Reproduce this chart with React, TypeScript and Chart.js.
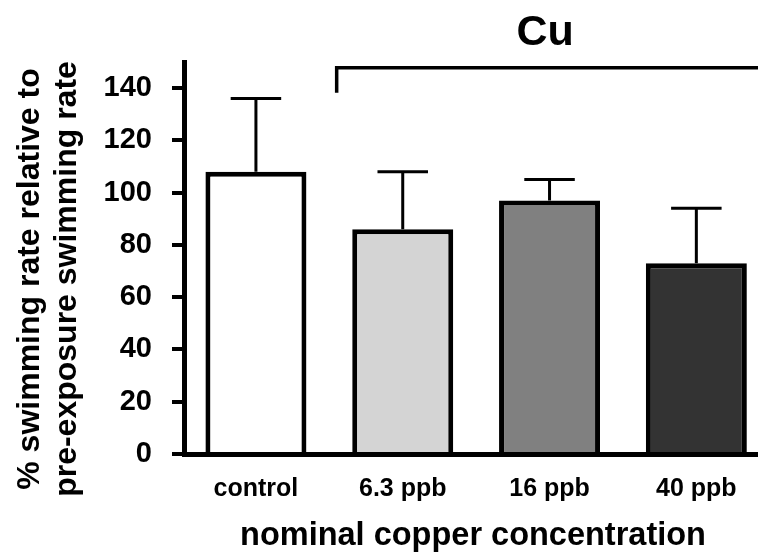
import React, { useEffect, useRef } from "react";
import { Chart, registerables } from "chart.js";

Chart.register(...registerables);

const categories = ["control", "6.3 ppb", "16 ppb", "40 ppb"];
const means = [108, 86, 97, 73];
const errors = [28, 22, 8, 21];
const barColors = ["#ffffff", "#d4d4d4", "#808080", "#333333"];
const yMin = 0;
const yMax = 150;
const yStep = 20;
const groupLabel = "Cu";
const xTitle = "nominal copper concentration";
const yTitleLines = ["% swimming rate relative to", "pre-exposure swimming rate"];

const FONT = "'Liberation Sans', Arial, Helvetica, sans-serif";

const annotations = {
  id: "annotations",
  afterDatasetsDraw(chart: any) {
    const { ctx } = chart;
    const ys = chart.scales.y;
    const meta = chart.getDatasetMeta(0);
    ctx.save();
    ctx.strokeStyle = "#000";
    ctx.lineWidth = 3;
    meta.data.forEach((bar: any, i: number) => {
      const x = bar.x;
      const yTop = ys.getPixelForValue(means[i]);
      const yErr = ys.getPixelForValue(means[i] + errors[i]);
      const half = bar.width / 4;
      ctx.beginPath();
      ctx.moveTo(x, yTop);
      ctx.lineTo(x, yErr);
      ctx.moveTo(x - half, yErr);
      ctx.lineTo(x + half, yErr);
      ctx.stroke();
    });
    ctx.restore();
  },
  afterDraw(chart: any) {
    const { ctx, chartArea } = chart;
    const xs = chart.scales.x;
    const ys = chart.scales.y;
    ctx.save();
    const bx = xs.getPixelForValue(0.55);
    const by = ys.getPixelForValue(147.8);
    const byLeg = ys.getPixelForValue(138.2);
    ctx.strokeStyle = "#000";
    ctx.lineWidth = 3.5;
    ctx.lineCap = "butt";
    ctx.beginPath();
    ctx.moveTo(bx, byLeg);
    ctx.lineTo(bx, by);
    ctx.lineTo(chart.width, by);
    ctx.stroke();
    ctx.fillStyle = "#000";
    ctx.font = `bold 43px ${FONT}`;
    ctx.textAlign = "center";
    ctx.textBaseline = "alphabetic";
    ctx.fillText(groupLabel, xs.getPixelForValue(1.97), 45);
    ctx.font = `bold 32.5px ${FONT}`;
    ctx.fillText(xTitle, (chartArea.left + chartArea.right) / 2 + 2, 545);
    const cy = (chartArea.top + chartArea.bottom) / 2 + 21;
    const lineX = [30, 67];
    ctx.font = `bold 32px ${FONT}`;
    yTitleLines.forEach((t, i) => {
      ctx.save();
      ctx.translate(lineX[i], cy);
      ctx.rotate(-Math.PI / 2);
      ctx.textBaseline = "middle";
      ctx.fillText(t, 0, 0);
      ctx.restore();
    });
    ctx.restore();
  },
};

export default function App() {
  const canvasRef = useRef<HTMLCanvasElement | null>(null);

  useEffect(() => {
    if (!canvasRef.current) return;
    const chart = new Chart(canvasRef.current, {
      type: "bar",
      data: {
        datasets: [
          {
            data: means.map((v, i) => ({ x: i, y: v })),
            backgroundColor: barColors,
            borderColor: "#000",
            borderWidth: 5,
            borderSkipped: "start",
            categoryPercentage: 1,
            barPercentage: 0.688,
          },
        ],
      },
      options: {
        animation: false,
        responsive: true,
        maintainAspectRatio: false,
        layout: { padding: { top: 62, left: 0, right: 0, bottom: 0 } },
        plugins: {
          legend: { display: false },
          tooltip: { enabled: false },
          title: { display: false },
        },
        scales: {
          x: {
            type: "linear",
            offset: false,
            min: -0.49,
            max: 3.42,
            afterBuildTicks: (scale: any) => {
              scale.ticks = categories.map((_, i) => ({ value: i }));
            },
            afterFit: (scale: any) => {
              scale.height = 102;
            },
            grid: { display: false, drawTicks: false, offset: false },
            border: { display: true, color: "#000", width: 5 },
            ticks: {
              autoSkip: false,
              maxRotation: 0,
              minRotation: 0,
              padding: 20,
              color: "#000",
              font: { family: FONT, size: 25, weight: "bold" },
              callback: (v: any) => categories[v] ?? "",
            },
          },
          y: {
            min: yMin,
            max: yMax,
            afterFit: (scale: any) => {
              scale.width = 184;
            },
            grid: {
              drawOnChartArea: false,
              drawTicks: true,
              tickLength: 12,
              tickWidth: 4,
              tickColor: "#000",
              color: "#000",
              lineWidth: 4,
            },
            border: { display: true, color: "#000", width: 5 },
            ticks: {
              stepSize: yStep,
              includeBounds: false,
              padding: 20,
              color: "#000",
              font: { family: FONT, size: 29, weight: "bold" },
            },
          },
        },
      },
      plugins: [annotations],
    });
    return () => chart.destroy();
  }, []);

  return (
    <div style={{ position: "absolute", left: 0, top: 0, width: 758, height: 556, background: "#fff" }}>
      <canvas ref={canvasRef} />
    </div>
  );
}
